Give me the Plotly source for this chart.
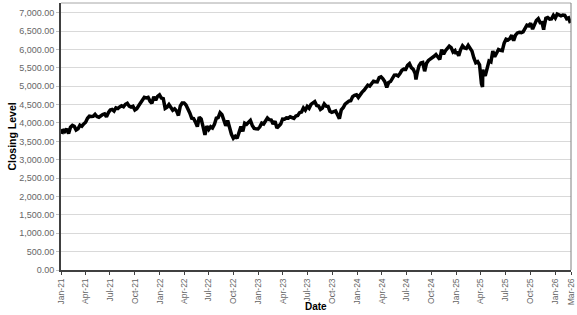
import pandas as pd
import plotly.graph_objects as go

# Weekly (Friday) closing levels
closes_2021 = [3824, 3768, 3841, 3714,
               3886, 3934, 3907, 3811,
               3842, 3943, 3913, 3975,
               4020, 4129, 4185, 4180, 4181,
               4233, 4174, 4156, 4204,
               4230, 4247, 4166, 4281,
               4352, 4370, 4327, 4412, 4395,
               4437, 4468, 4442, 4509,
               4535, 4459, 4433, 4455,
               4357, 4391, 4471, 4545, 4605,
               4697, 4683, 4698, 4595,
               4538, 4712, 4620, 4726, 4766]
closes_2022 = [4677, 4663, 4398, 4432,
               4501, 4419, 4349, 4385,
               4329, 4204, 4463, 4543,
               4546, 4488, 4393, 4272, 4132,
               4123, 4024, 3901, 4158,
               4109, 3901, 3675, 3912,
               3825, 3899, 3863, 3962, 4130,
               4145, 4280, 4228, 4058,
               3924, 4067, 3873, 3693, 3586,
               3640, 3583, 3753, 3901,
               3771, 3993, 3965, 4026,
               4072, 3934, 3852, 3845, 3840]
closes_2023 = [3895, 3999, 3973, 4071,
               4136, 4090, 4079, 3970,
               4046, 3862, 3917, 3971, 4109,
               4105, 4138, 4133, 4169,
               4136, 4124, 4192, 4205,
               4282, 4299, 4410, 4348, 4450,
               4399, 4505, 4536, 4582,
               4478, 4464, 4370, 4406,
               4516, 4457, 4450, 4320, 4288,
               4309, 4327, 4224, 4117,
               4358, 4415, 4514, 4559,
               4595, 4604, 4719, 4755, 4770]
closes_2024 = [4697, 4784, 4840, 4891,
               4959, 5027, 5006, 5089,
               5137, 5124, 5117, 5234, 5254,
               5204, 5123, 4967, 5100,
               5128, 5223, 5303, 5305, 5278,
               5347, 5432, 5465, 5460,
               5567, 5615, 5505, 5459,
               5347, 5344, 5554, 5634, 5648,
               5408, 5626, 5703, 5738,
               5751, 5815, 5864, 5808,
               5729, 5996, 5871, 5969, 6032,
               6090, 6051, 5931, 5971]
closes_2025 = [5942, 5827, 5997, 6101, 6041,
               6026, 6115, 6013, 5955,
               5770, 5639, 5668, 5581,
               5074, 5363, 5283, 5525,
               5686, 5660, 5958, 5803, 5912,
               6000, 5977, 5968, 6173,
               6279, 6260, 6297, 6389,
               6238, 6389, 6450, 6467, 6460,
               6482, 6584, 6664, 6644,
               6716, 6553, 6664, 6791, 6840,
               6729, 6734, 6603, 6849,
               6870, 6827, 6834, 6930]
closes_2026 = [6858, 6966, 6940, 6915, 6939,
               6932, 6836, 6860, 6720]
first_fridays = ["2021-01-08", "2022-01-07", "2023-01-06",
                 "2024-01-05", "2025-01-03", "2026-01-02"]

# Extra mid-week closes visible as spikes in the chart
extra_dates = ["2021-01-04", "2024-08-05", "2024-12-31",
               "2025-04-08", "2025-04-09", "2025-11-20"]
extra_closes = [3701, 5186, 5882, 4983, 5457, 6538]

tick_dates = ["2021-01-01", "2021-04-01", "2021-07-01", "2021-10-01",
              "2022-01-01", "2022-04-01", "2022-07-01", "2022-10-01",
              "2023-01-01", "2023-04-01", "2023-07-01", "2023-10-01",
              "2024-01-01", "2024-04-01", "2024-07-01", "2024-10-01",
              "2025-01-01", "2025-04-01", "2025-07-01", "2025-10-01",
              "2026-01-01", "2026-03-01"]
tick_labels = ["Jan-21", "Apr-21", "Jul-21", "Oct-21",
               "Jan-22", "Apr-22", "Jul-22", "Oct-22",
               "Jan-23", "Apr-23", "Jul-23", "Oct-23",
               "Jan-24", "Apr-24", "Jul-24", "Oct-24",
               "Jan-25", "Apr-25", "Jul-25", "Oct-25",
               "Jan-26", "Mar-26"]

yearly = [closes_2021, closes_2022, closes_2023, closes_2024, closes_2025, closes_2026]
parts = []
for start, vals in zip(first_fridays, yearly):
    idx = pd.date_range(start, periods=len(vals), freq="7D")
    parts.append(pd.Series(vals, index=idx))
parts.append(pd.Series(extra_closes, index=pd.to_datetime(extra_dates)))
series = pd.concat(parts).sort_index()

FONT = "Liberation Sans, Arial, sans-serif"

fig = go.Figure(go.Scatter(
    x=series.index, y=series.values, mode="lines",
    line=dict(color="black", width=3.5), hoverinfo="x+y"))

fig.update_layout(
    width=577, height=315,
    margin=dict(l=61, r=6, t=3, b=45),
    paper_bgcolor="white", plot_bgcolor="white",
    showlegend=False,
    font=dict(family=FONT),
    shapes=[
        dict(type="line", xref="paper", yref="paper", x0=0, x1=1, y0=1, y1=1,
             line=dict(color="#a6a6a6", width=1)),
        dict(type="line", xref="paper", yref="paper", x0=1, x1=1, y0=0, y1=1,
             line=dict(color="#808080", width=1)),
    ],
    annotations=[
        dict(text="<b>Date</b>", xref="paper", yref="paper", x=0.5, y=0,
             xanchor="center", yanchor="middle", yshift=-36, showarrow=False,
             font=dict(family=FONT, size=10, color="black")),
    ],
)
fig.update_xaxes(
    type="date", range=["2021-01-01", "2026-03-01"],
    tickmode="array", tickvals=tick_dates, ticktext=tick_labels,
    tickangle=-90, tickfont=dict(family=FONT, size=8.5, color="#666666"),
    showgrid=False, showline=True, linecolor="#404040", linewidth=2,
    ticks="outside", ticklen=3, tickcolor="#404040",
    automargin=False,
)
fig.update_yaxes(
    range=[0, 7265], tick0=0, dtick=500, tickformat=",.2f",
    tickfont=dict(family=FONT, size=9, color="#666666"),
    showgrid=True, gridcolor="#d9d9d9", gridwidth=1,
    showline=True, linecolor="#404040", linewidth=2,
    ticks="outside", ticklen=3, tickcolor="#bfbfbf",
    zeroline=False,
    title=dict(text="<b>Closing Level</b>", font=dict(family=FONT, size=10.5, color="black"),
               standoff=0),
    automargin=False,
)

fig.write_html("out.html")
